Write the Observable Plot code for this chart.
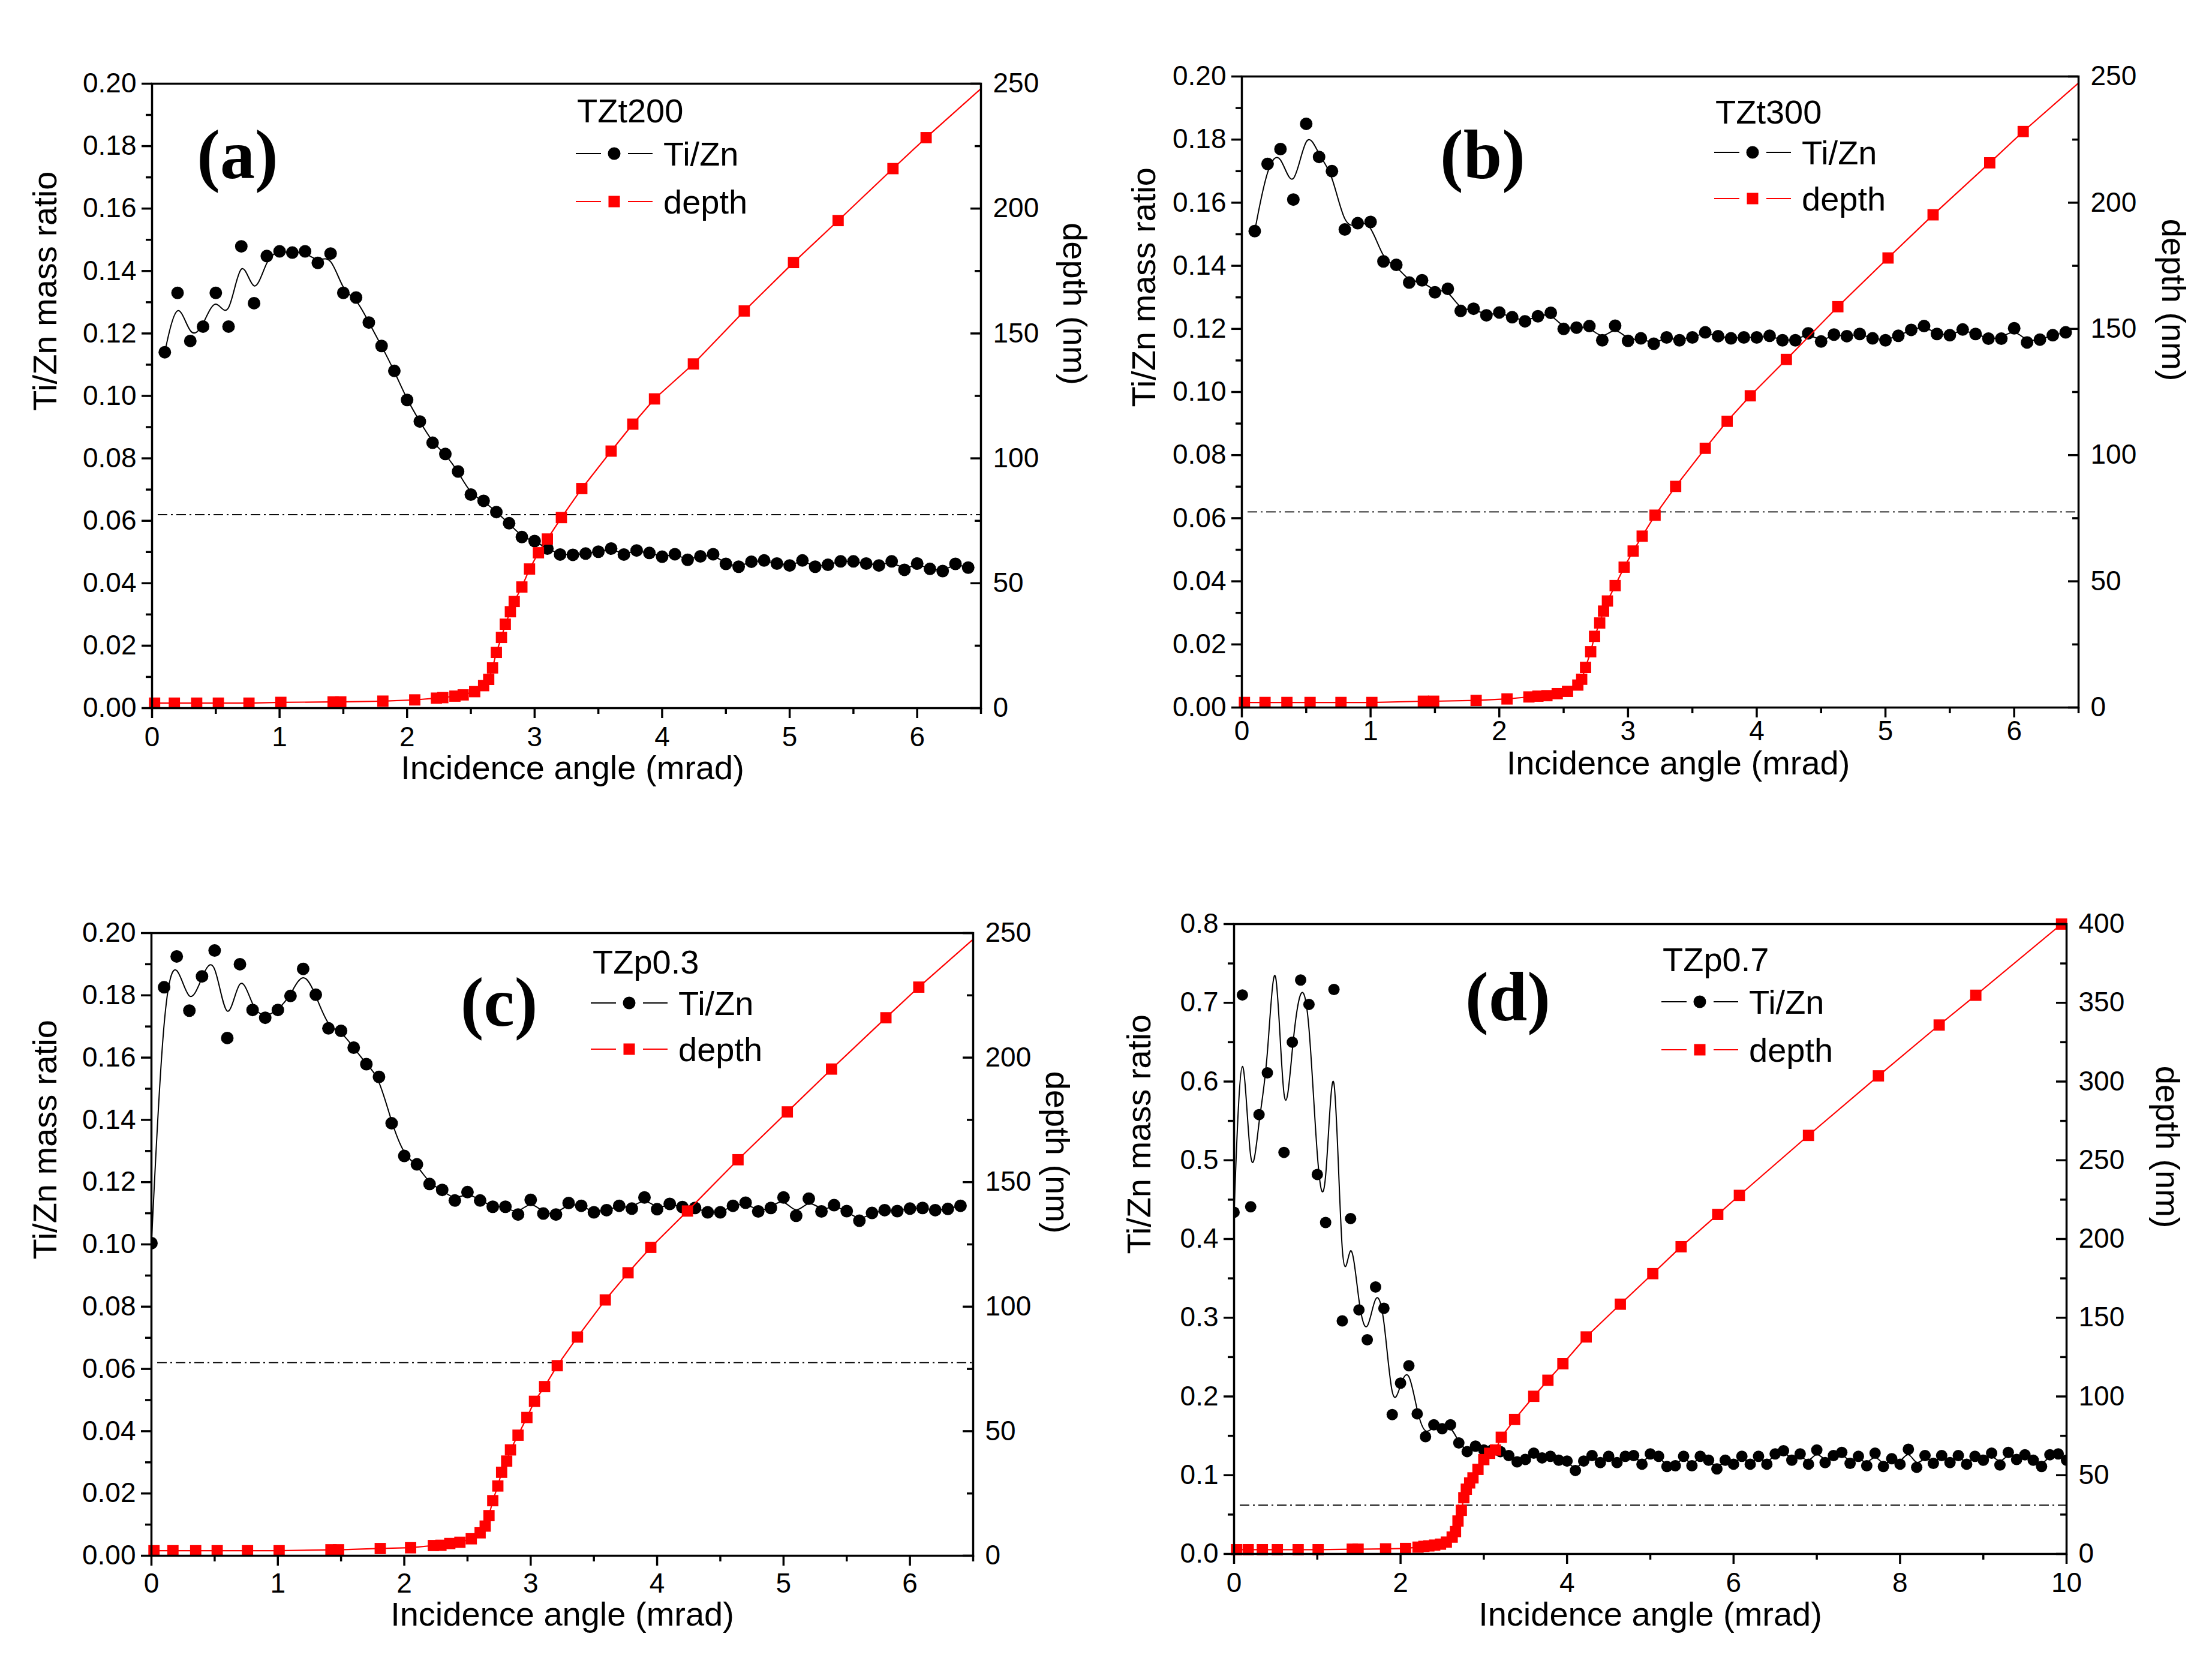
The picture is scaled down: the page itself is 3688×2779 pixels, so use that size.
<!DOCTYPE html>
<html>
<head>
<meta charset="utf-8">
<script src="https://cdn.jsdelivr.net/npm/d3@7"></script>
<script src="https://cdn.jsdelivr.net/npm/@observablehq/plot@0.6"></script>
<style>
  body { margin: 0; background: #fff; }
  #fig { position: relative; width: 3688px; height: 2779px; background: #fff; overflow: hidden; }
</style>
</head>
<body>
<div id="fig"></div>
<script>
// incidence angles (mrad) of the Ti/Zn points
const angleAB = [0.1,0.2,0.3,0.4,0.5,0.6,0.7,0.8,0.9,1.0,1.1,1.2,1.3,1.4,1.5,1.6,1.7,1.8,1.9,2.0,
  2.1,2.2,2.3,2.4,2.5,2.6,2.7,2.8,2.9,3.0,3.1,3.2,3.3,3.4,3.5,3.6,3.7,3.8,3.9,4.0,
  4.1,4.2,4.3,4.4,4.5,4.6,4.7,4.8,4.9,5.0,5.1,5.2,5.3,5.4,5.5,5.6,5.7,5.8,5.9,6.0,6.1,6.2,6.3,6.4]
const angleC = [0,0.1,0.2,0.3,0.4,0.5,0.6,0.7,0.8,0.9,1.0,1.1,1.2,1.3,1.4,1.5,1.6,1.7,1.8,1.9,2.0,
  2.1,2.2,2.3,2.4,2.5,2.6,2.7,2.8,2.9,3.0,3.1,3.2,3.3,3.4,3.5,3.6,3.7,3.8,3.9,4.0,
  4.1,4.2,4.3,4.4,4.5,4.6,4.7,4.8,4.9,5.0,5.1,5.2,5.3,5.4,5.5,5.6,5.7,5.8,5.9,6.0,6.1,6.2,6.3,6.4]
const angleD = [0,0.1,0.2,0.3,0.4,0.5,0.6,0.7,0.8,0.9,1.0,1.1,1.2,1.3,1.4,1.5,1.6,1.7,1.8,1.9,
  2.0,2.1,2.2,2.3,2.4,2.5,2.6,2.7,2.8,2.9,3.0,3.1,3.2,3.3,3.4,3.5,3.6,3.7,3.8,3.9,
  4.0,4.1,4.2,4.3,4.4,4.5,4.6,4.7,4.8,4.9,5.0,5.1,5.2,5.3,5.4,5.5,5.6,5.7,5.8,5.9,
  6.0,6.1,6.2,6.3,6.4,6.5,6.6,6.7,6.8,6.9,7.0,7.1,7.2,7.3,7.4,7.5,7.6,7.7,7.8,7.9,
  8.0,8.1,8.2,8.3,8.4,8.5,8.6,8.7,8.8,8.9,9.0,9.1,9.2,9.3,9.4,9.5,9.6,9.7,9.8,9.9,10.0]

// Ti/Zn mass ratio
const ratioA = [0.114,0.133,0.1176,0.1222,0.133,0.1222,0.1479,0.1297,0.1448,0.1463,
  0.1459,0.1463,0.1426,0.1456,0.133,0.1315,0.1235,0.116,0.108,0.0987,
  0.0918,0.085,0.0814,0.0758,0.0684,0.0664,0.0628,0.0592,0.0548,0.0535,
  0.0511,0.0492,0.0491,0.0495,0.0501,0.0511,0.0492,0.0505,0.0497,0.0485,
  0.0493,0.0475,0.0486,0.0493,0.0462,0.0453,0.0469,0.0473,0.0463,0.0457,
  0.0473,0.0453,0.0459,0.047,0.047,0.0463,0.0457,0.047,0.0443,0.0463,
  0.0446,0.0439,0.0462,0.045]
const ratioB = [0.151,0.1723,0.177,0.161,0.185,0.1745,0.170,0.1515,0.1535,0.1539,
  0.1414,0.1403,0.1347,0.1354,0.1316,0.1327,0.1257,0.1264,0.1243,0.1252,
  0.1237,0.1224,0.124,0.1251,0.12,0.1204,0.1209,0.1164,0.121,0.1162,
  0.117,0.1153,0.1173,0.1164,0.1173,0.1189,0.1177,0.117,0.1173,0.1173,
  0.1178,0.1164,0.1164,0.1186,0.116,0.1182,0.1177,0.1184,0.117,0.1164,
  0.1178,0.1197,0.1209,0.1184,0.118,0.1198,0.1184,0.1169,0.1169,0.1202,
  0.1157,0.1166,0.118,0.1189]
const ratioC = [0.1004,0.1826,0.1925,0.1751,0.1861,0.1944,0.1663,0.19,0.1753,0.1728,
  0.1753,0.1798,0.1885,0.1802,0.1694,0.1686,0.1632,0.1579,0.1538,0.1389,
  0.1284,0.1257,0.1194,0.1175,0.1141,0.1168,0.1141,0.1121,0.1121,0.1096,
  0.1143,0.1099,0.1096,0.1133,0.1124,0.1103,0.111,0.1124,0.1115,0.1151,
  0.1113,0.113,0.112,0.1117,0.1103,0.1103,0.1124,0.1134,0.1106,0.1117,
  0.1151,0.1092,0.1147,0.1106,0.1126,0.1107,0.1076,0.1101,0.111,0.1107,
  0.1115,0.1117,0.111,0.1114,0.1124]
const ratioD = [0.434,0.710,0.441,0.558,0.611,0.818,0.510,0.650,0.729,0.698,
  0.482,0.421,0.717,0.296,0.426,0.310,0.272,0.339,0.312,0.177,
  0.217,0.239,0.178,0.149,0.164,0.159,0.164,0.141,0.130,0.137,
  0.132,0.132,0.130,0.125,0.117,0.120,0.128,0.122,0.124,0.119,
  0.118,0.106,0.118,0.125,0.116,0.124,0.116,0.124,0.125,0.114,
  0.127,0.124,0.111,0.112,0.124,0.112,0.124,0.119,0.108,0.119,
  0.114,0.124,0.114,0.124,0.114,0.127,0.131,0.119,0.127,0.114,
  0.132,0.116,0.125,0.129,0.115,0.124,0.112,0.128,0.111,0.121,
  0.114,0.133,0.110,0.125,0.115,0.125,0.116,0.125,0.114,0.124,
  0.119,0.128,0.113,0.129,0.120,0.126,0.119,0.111,0.126,0.127,
  0.119]

// depth (nm) vs angle; in a-c the last pair is where the line leaves the frame
const depthAngleA = [0.02,0.175,0.35,0.52,0.76,1.01,1.42,1.48,1.81,2.06,2.23,2.28,2.375,2.44,2.53,2.60,2.64,2.67,2.70,2.74,
  2.77,2.81,2.84,2.90,2.96,3.03,3.10,3.21,3.37,3.60,3.77,3.94,4.245,4.644,5.03,5.38,5.81,6.07,6.5]
const depthA = [2.0,2.0,2.0,2.0,2.0,2.3,2.5,2.5,2.8,3.3,4.0,4.2,4.8,5.3,6.6,9.0,11.5,16.1,22.3,28.3,
  33.6,38.6,42.7,48.5,55.7,62.2,67.7,76.3,87.9,102.9,113.7,123.8,137.8,159.0,178.4,195.2,216.0,228.4,248.0]
const depthAngleB = [0.02,0.18,0.35,0.53,0.77,1.01,1.41,1.49,1.82,2.06,2.23,2.30,2.37,2.45,2.53,2.61,2.64,2.67,2.71,2.74,
  2.78,2.81,2.84,2.90,2.97,3.04,3.11,3.21,3.37,3.60,3.77,3.95,4.23,4.63,5.02,5.37,5.81,6.07,6.5]
const depthB = [2.0,2.0,2.0,2.0,2.0,2.0,2.5,2.5,2.8,3.4,4.2,4.5,4.7,5.5,6.4,8.9,11.2,15.9,22.1,28.2,
  33.5,38.2,42.2,48.3,55.6,62.0,67.9,76.2,87.6,102.7,113.4,123.5,137.9,158.8,178.1,195.2,215.8,228.2,247.4]
const depthAngleC = [0.02,0.17,0.35,0.52,0.76,1.01,1.42,1.48,1.81,2.05,2.23,2.29,2.36,2.44,2.53,2.60,2.64,2.67,2.70,2.74,
  2.77,2.81,2.84,2.90,2.97,3.03,3.11,3.21,3.37,3.59,3.77,3.95,4.24,4.64,5.03,5.38,5.81,6.07,6.5]
const depthC = [2.0,2.0,2.0,2.0,2.0,2.0,2.4,2.4,2.9,3.2,4.1,4.2,4.9,5.4,6.8,9.2,11.9,16.1,22.1,28.0,
  33.5,38.0,42.5,48.4,55.5,62.0,67.9,76.3,87.8,102.7,113.6,123.8,138.4,159.0,178.2,195.4,216.0,228.3,247.5]
const depthAngleD = [0.03,0.17,0.34,0.52,0.77,1.01,1.42,1.49,1.82,2.06,2.21,2.28,2.34,2.41,2.48,2.55,2.62,2.66,2.69,2.73,
  2.76,2.79,2.83,2.87,2.93,3.00,3.07,3.14,3.21,3.37,3.60,3.77,3.95,4.23,4.64,5.03,5.37,5.81,6.07,6.90,
  7.74,8.47,8.91,9.94]
const depthD = [2.7,2.7,2.7,2.7,2.7,2.7,3.0,3.0,3.2,3.5,4.3,4.8,5.1,5.6,6.2,7.5,10.7,14.2,20.9,27.7,
  35.7,41.1,45.1,48.3,53.7,59.9,63.9,66.0,74.1,85.4,100.1,110.3,120.8,137.8,158.6,178.0,195.1,215.6,227.7,265.8,
  303.6,335.9,354.8,400.0]

const refLevel = 0.062   // dash-dot line

// ticks
const xTicks6 = [0,1,2,3,4,5,6]
const xMinor6 = [0.5,1.5,2.5,3.5,4.5,5.5,6.5]
const xTicks10 = [0,2,4,6,8,10]
const xMinor10 = [1,3,5,7,9]
const yTicks02 = [0,0.02,0.04,0.06,0.08,0.10,0.12,0.14,0.16,0.18,0.20]
const yMinor02 = [0.01,0.03,0.05,0.07,0.09,0.11,0.13,0.15,0.17,0.19]
const yTicks08 = [0,0.1,0.2,0.3,0.4,0.5,0.6,0.7,0.8]
const yMinor08 = [0.05,0.15,0.25,0.35,0.45,0.55,0.65,0.75]
const depthTicks250 = [0,50,100,150,200,250]
const depthMinor250 = [25,75,125,175,225]
const depthTicks400 = [0,50,100,150,200,250,300,350,400]
const depthMinor400 = [25,75,125,175,225,275,325,375]

const sampleNames = ['TZt200', 'TZt300', 'TZp0.3', 'TZp0.7']
const panelLetters = ['(a)', '(b)', '(c)', '(d)']

const SANS = "'Liberation Sans', Arial, sans-serif"
const RED = '#ff0000'

const panels = [
  {L: 253, T: 139, R: 1635, B: 1180, angle: angleAB, ratio: ratioA, dAngle: depthAngleA, depth: depthA, marks: 38,
   xMax: 6.5, yMax: 0.2, depthMax: 250, xT: xTicks6, xM: xMinor6, yT: yTicks02, yM: yMinor02, dT: depthTicks250, dM: depthMinor250,
   fmt: d3.format('.2f'), letter: [143, 119], leg: [709, 65, 117, 197, 707], yt: 177, xt: 118, xdx: 10, rt: 155, pad: 14, dotR: 10.5},
  {L: 2070, T: 127, R: 3465, B: 1179, angle: angleAB, ratio: ratioB, dAngle: depthAngleB, depth: depthB, marks: 38,
   xMax: 6.5, yMax: 0.2, depthMax: 250, xT: xTicks6, xM: xMinor6, yT: yTicks02, yM: yMinor02, dT: depthTicks250, dM: depthMinor250,
   fmt: d3.format('.2f'), letter: [402, 131], leg: [790, 79, 127, 204, 788], yt: 162, xt: 111, xdx: 30, rt: 157, pad: 5, dotR: 10.5},
  {L: 252, T: 1555, R: 1622, B: 2593, angle: angleC, ratio: ratioC, dAngle: depthAngleC, depth: depthC, marks: 38,
   xMax: 6.5, yMax: 0.2, depthMax: 250, xT: xTicks6, xM: xMinor6, yT: yTicks02, yM: yMinor02, dT: depthTicks250, dM: depthMinor250,
   fmt: d3.format('.2f'), letter: [580, 116], leg: [736, 68, 117, 194, 733], yt: 176, xt: 116, xdx: 0, rt: 139, pad: 12, dotR: 10.5},
  {L: 2057, T: 1540, R: 3445, B: 2590, angle: angleD, ratio: ratioD, dAngle: depthAngleD, depth: depthD, marks: 44,
   xMax: 10, yMax: 0.8, depthMax: 400, xT: xTicks10, xM: xMinor10, yT: yTicks08, yM: yMinor08, dT: depthTicks400, dM: depthMinor400,
   fmt: d3.format('.1f'), letter: [457, 122], leg: [715, 79, 130, 210, 713], yt: 157, xt: 119, xdx: 0, rt: 167, pad: 14, dotR: 9.5}
]

const ml = 270, mr = 250, mt = 40, mb = 190

panels.forEach((p, i) => {
  const w = p.R - p.L, h = p.B - p.T
  const k = p.yMax / p.depthMax
  const ratio = p.angle.map((a, j) => ({a: a, v: p.ratio[j]}))
  const depth = p.dAngle.map((a, j) => ({a: a, v: p.depth[j] * k}))

  let chart = Plot.plot({
    width: w + ml + mr,
    height: h + mt + mb,
    marginLeft: ml, marginRight: mr, marginTop: mt, marginBottom: mb,
    x: {domain: [0, p.xMax]},
    y: {domain: [0, p.yMax]},
    // transparent, so that neighbouring panels do not hide each other's titles
    style: {fontFamily: SANS, fontSize: '46px', background: 'none', color: 'black', overflow: 'visible'},
    marks: [
      Plot.ruleY([refLevel], {stroke: 'black', strokeWidth: 1.8, strokeDasharray: '16,6,3,6', insetLeft: 10}),
      Plot.line(ratio, {x: 'a', y: 'v', curve: 'basis', stroke: 'black', strokeWidth: 2, clip: true}),
      Plot.dot(ratio, {x: 'a', y: 'v', r: p.dotR, fill: 'black', clip: true}),
      Plot.line(depth, {x: 'a', y: 'v', stroke: RED, strokeWidth: 2.2, clip: true}),
      Plot.dot(depth.slice(0, p.marks), {x: 'a', y: 'v', symbol: 'square', r: 10.6, fill: RED}),
      Plot.frame({strokeWidth: 3.5}),
      Plot.axisX(p.xT, {tickSize: 17, tickPadding: p.pad, strokeWidth: 3.5, fontSize: 46,
        tickFormat: d => String(d), label: null}),
      Plot.axisX(p.xM, {tickSize: 10, strokeWidth: 3.5, tickFormat: () => '', label: null}),
      Plot.axisY(p.yT, {tickSize: 17, tickPadding: 9, strokeWidth: 3.5, fontSize: 46, tickFormat: p.fmt, label: null}),
      Plot.axisY(p.yM, {tickSize: 10, strokeWidth: 3.5, tickFormat: () => '', label: null}),
      Plot.axisY(p.dT.map(d => d * k), {anchor: 'right', tickSize: 0, tickPadding: 20, fontSize: 46,
        tickFormat: d => String(Math.round(d / k)), label: null}),
      Plot.tickY(p.dT.map(d => d * k), {insetLeft: w - 17, strokeWidth: 3.5}),
      Plot.tickY(p.dM.map(d => d * k), {insetLeft: w - 10, strokeWidth: 3.5}),
      Plot.text(['Ti/Zn mass ratio'], {frameAnchor: 'left', dx: -p.yt, dy: 25, rotate: -90, fontSize: 56}),
      Plot.text(['depth (nm)'], {frameAnchor: 'right', dx: p.rt, dy: -18, rotate: 90, fontSize: 56}),
      Plot.text(['Incidence angle (mrad)'], {frameAnchor: 'bottom', dx: p.xdx, dy: p.xt, fontSize: 56}),
    ],
  })

  // legend and panel letter, in pixels from the frame's top-left corner
  const g = d3.select(chart).append('g')
    .attr('transform', `translate(${ml},${mt})`)
    .attr('text-anchor', 'start')
    .style('font-family', SANS)
  g.append('text')
    .attr('x', p.letter[0]).attr('y', p.letter[1])
    .attr('text-anchor', 'middle').attr('dominant-baseline', 'central')
    .style('font-family', "'Liberation Serif', 'Times New Roman', serif")
    .style('font-weight', 'bold').style('font-size', '116px')
    .text(panelLetters[i])
  const [tx, ty, r1, r2, x0] = p.leg
  g.append('text').attr('x', tx).attr('y', ty).attr('text-anchor', 'start')
    .style('font-size', '56px').text(sampleNames[i])
  const rows = [
    {y: r1, color: 'black', label: 'Ti/Zn', square: false},
    {y: r2, color: RED, label: 'depth', square: true},
  ]
  rows.forEach(row => {
    g.append('line').attr('x1', x0).attr('x2', x0 + 42).attr('y1', row.y).attr('y2', row.y)
      .attr('stroke', row.color).attr('stroke-width', 2.2)
    g.append('line').attr('x1', x0 + 87).attr('x2', x0 + 128).attr('y1', row.y).attr('y2', row.y)
      .attr('stroke', row.color).attr('stroke-width', 2.2)
    if (row.square) {
      g.append('rect').attr('x', x0 + 64 - 9.5).attr('y', row.y - 9.5).attr('width', 19).attr('height', 19)
        .attr('fill', row.color)
    } else {
      g.append('circle').attr('cx', x0 + 64).attr('cy', row.y).attr('r', 10.5).attr('fill', row.color)
    }
    g.append('text').attr('x', x0 + 146).attr('y', row.y)
      .attr('text-anchor', 'start').attr('dominant-baseline', 'central')
      .style('font-size', '56px').text(row.label)
  })

  d3.select(chart)
    .style('position', 'absolute')
    .style('left', (p.L - ml) + 'px')
    .style('top', (p.T - mt) + 'px')
  d3.select('#fig').append(() => chart)
})
</script>
</body>
</html>
